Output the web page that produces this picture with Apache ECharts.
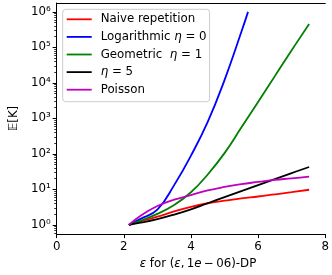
<!DOCTYPE html>
<html>
<head>
<meta charset="utf-8">
<script src="https://cdn.jsdelivr.net/npm/echarts@6/dist/echarts.min.js"></script>
<style>
html,body{margin:0;padding:0;background:#fff;}
#chart{width:332px;height:275px;}
</style>
</head>
<body>
<div id="chart"></div>
<script>
// x values (epsilon)
const eps = [2.15, 2.5, 3.0, 3.5, 4.0, 4.5, 5.0, 5.5, 6.0, 6.5, 7.0, 7.52];
const epsLogarithmic = [2.15, 2.5, 3.0, 3.5, 4.0, 4.5, 5.0, 5.5, 5.7];
// E[K] values
const naive = [1, 1.26, 1.70, 2.40, 3.24, 4.07, 4.79, 5.62, 6.31, 7.24, 8.32, 9.77];
const logarithmic = [1, 1.48, 2.69, 13.2, 89, 794, 12000, 270000, 1000000];
const geometric = [1, 1.32, 2.04, 3.63, 8.3, 26.3, 105, 550, 2880, 15500, 83200, 457000];
const eta5 = [1, 1.15, 1.45, 1.95, 2.75, 4.07, 6.03, 8.91, 13.2, 19.5, 28.8, 42.7];
const poisson = [1, 1.82, 3.39, 5.13, 6.92, 9.33, 11.7, 14.1, 16.2, 18.6, 20.4, 22.9];

const seriesNames = ['Naive repetition', 'Logarithmic η = 0', 'Geometric  η = 1', 'η = 5', 'Poisson'];
const seriesColors = ['#ff0000', '#0000ff', '#008000', '#000000', '#bf00bf'];
const xTicks = [0, 2, 4, 6, 8];
const yMajorTicks = [1, 10, 100, 1000, 10000, 100000, 1000000];
const yMinorTicks = [];
for (let k = -1; k <= 6; k++) for (let m = 2; m <= 9; m++) yMinorTicks.push(m * Math.pow(10, k));

const FONT = 'DejaVu Sans';
const FS = 11.8;
const sup = {'0':'⁰','1':'¹','2':'²','3':'³','4':'⁴','5':'⁵','6':'⁶','-':'⁻'};

function pairs(xs, ys) { return xs.map((x, i) => [x, ys[i]]); }

const chart = echarts.init(document.getElementById('chart'), null, {renderer: 'canvas'});
const mkSeries = (name, xs, ys, color) => ({
  name, type: 'line', data: pairs(xs, ys), symbol: 'none', showSymbol: false,
  smooth: 0.45,
  lineStyle: {color, width: 1.8}, itemStyle: {color}, xAxisIndex: 0, yAxisIndex: 0
});

chart.setOption({
  animation: false,
  backgroundColor: '#ffffff',
  grid: {left: 56, right: -17, top: 3, bottom: 37, containLabel: false},
  xAxis: [{
    type: 'value', min: 0, max: 8, interval: 2, position: 'bottom',
    axisLine: {show: true, onZero: false, lineStyle: {color: '#000', width: 1}},
    axisTick: {show: true, length: 4, lineStyle: {color: '#000', width: 1}},
    axisLabel: {color: '#000', fontSize: FS, fontFamily: FONT, margin: 7},
    splitLine: {show: false},
    name: '{i|ε} for ({i|ε},\u20091{i|e}\u2009−\u200906)-DP', nameLocation: 'middle', nameGap: 22,
    nameTextStyle: {color: '#000', fontSize: FS, fontFamily: FONT, padding: [0, 0, 0, 14],
      rich: {i: {fontStyle: 'italic', fontSize: FS, fontFamily: FONT, color: '#000'}}}
  }, {
    type: 'value', min: 0, max: 8, position: 'top',
    axisLine: {show: true, onZero: false, lineStyle: {color: '#000', width: 1}},
    axisTick: {show: false}, axisLabel: {show: false}, splitLine: {show: false}
  }],
  yAxis: [{
    type: 'log', logBase: 10, min: 0.55, max: 1.78e6, position: 'left',
    axisLine: {show: true, onZero: false, lineStyle: {color: '#000', width: 1}},
    axisTick: {show: true, length: 4, customValues: yMajorTicks, lineStyle: {color: '#000', width: 1}},
    axisLabel: {color: '#000', fontSize: FS, fontFamily: FONT, margin: 6, customValues: yMajorTicks,
      formatter: v => '10' + String(Math.round(Math.log10(v))).split('').map(c => sup[c]).join('')},
    splitLine: {show: false},
    name: '𝔼[K]', nameLocation: 'middle', nameGap: 30, nameRotate: 90,
    nameTextStyle: {color: '#000', fontSize: FS, fontFamily: FONT}
  }, {
    type: 'log', logBase: 10, min: 0.55, max: 1.78e6, position: 'left', offset: 0,
    axisLine: {show: false},
    axisTick: {show: true, length: 2.4, customValues: yMinorTicks, lineStyle: {color: '#000', width: 0.8}},
    axisLabel: {show: false}, splitLine: {show: false}
  }],
  legend: {
    data: seriesNames, orient: 'vertical', left: 62.7, top: 9.3,
    icon: 'rect', itemWidth: 25, itemHeight: 1.8, itemGap: 3.6,
    padding: [3, 3, 5, 4],
    backgroundColor: 'rgba(255,255,255,0.8)', borderColor: '#cccccc', borderWidth: 1, borderRadius: 3,
    formatter: n => n.replace(/η/g, '{i|η}'),
    textStyle: {color: '#000', fontSize: FS, fontFamily: FONT, lineHeight: 14, padding: [0, 0, 0, 4],
      rich: {i: {fontStyle: 'italic', fontSize: FS, fontFamily: FONT, color: '#000', lineHeight: 14}}}
  },
  series: [
    mkSeries(seriesNames[0], eps, naive, seriesColors[0]),
    mkSeries(seriesNames[1], epsLogarithmic, logarithmic, seriesColors[1]),
    mkSeries(seriesNames[2], eps, geometric, seriesColors[2]),
    mkSeries(seriesNames[3], eps, eta5, seriesColors[3]),
    mkSeries(seriesNames[4], eps, poisson, seriesColors[4])
  ]
});
</script>
</body>
</html>
